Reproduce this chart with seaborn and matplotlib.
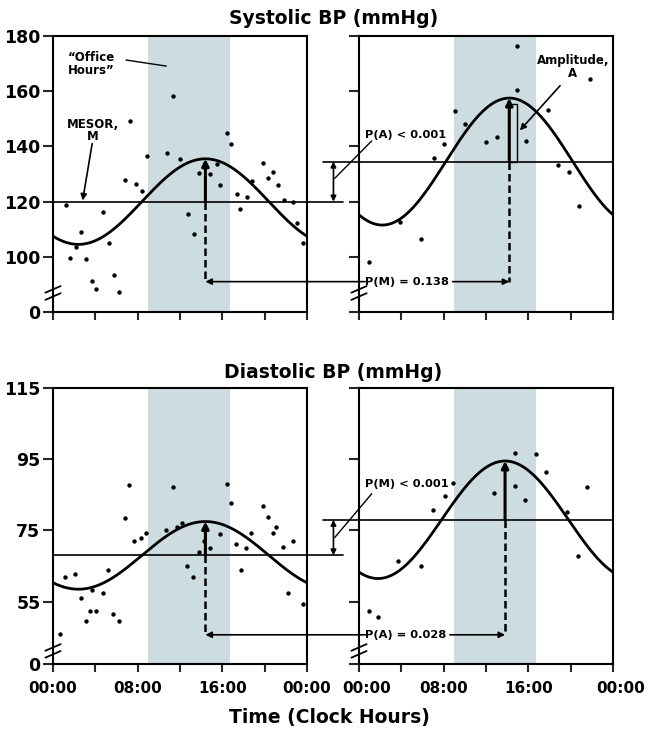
import numpy as np
import matplotlib
matplotlib.use("Agg")
import matplotlib.pyplot as plt
import matplotlib.transforms as mtransforms
import seaborn as sns

# --- DATA ---
# Systolic BP, left panel
sys_left_hour = [1.2, 1.6, 2.2, 2.6, 3.1, 3.7, 4.1, 4.75, 5.3, 5.8, 6.2, 6.8, 7.3, 7.8, 8.4, 8.9,
                 10.8, 11.3, 12.0, 12.8, 13.3, 13.8, 14.8, 15.5, 15.8, 16.4, 16.8, 17.4, 17.7, 18.3, 18.8,
                 19.8, 20.3, 20.8, 21.3, 21.8, 22.7, 23.1, 23.6]
sys_left_bp = [118.8, 99.6, 103.5, 109.1, 99.3, 91.2, 88.4, 116.1, 105.0, 93.3, 87.2, 127.8, 149.3, 126.5, 123.9, 136.7,
               137.7, 158.1, 135.6, 115.6, 108.4, 130.5, 129.9, 133.8, 125.9, 144.7, 140.8, 122.7, 117.2, 121.8, 127.4,
               133.9, 128.4, 130.8, 125.9, 120.7, 119.9, 112.4, 105.1]

# Systolic BP, right panel
sys_right_hour = [0.95, 3.9, 5.85, 7.05, 8.0, 9.1, 10.0, 12.0, 13.0, 14.9, 14.9, 15.8, 17.9, 18.8, 19.8, 20.8, 21.8]
sys_right_bp = [98.1, 112.6, 106.5, 135.9, 140.8, 152.8, 148.0, 141.5, 143.4, 176.5, 160.5, 141.9, 153.2, 133.2,
                130.8, 118.4, 164.4]

# Diastolic BP, left panel
dia_left_hour = [0.66, 1.1, 2.1, 2.6, 3.1, 3.5, 3.7, 4.1, 4.7, 5.2, 5.7, 6.2, 6.8, 7.2, 7.7, 8.3, 8.8, 10.7, 11.3, 11.7,
                 12.2, 12.7, 13.2, 13.8, 14.3, 14.8, 15.8, 16.4, 16.8, 17.3, 17.8, 18.2, 18.7, 19.8, 20.3, 20.8, 21.1,
                 21.7, 22.2, 22.7, 23.6]
dia_left_bp = [46.0, 62.0, 62.8, 56.1, 49.6, 52.5, 58.2, 52.5, 57.5, 64.0, 51.6, 49.5, 78.6, 87.7, 72.0, 72.9, 74.2,
               75.1, 87.3, 76.0, 77.0, 65.1, 62.0, 69.0, 72.0, 70.1, 74.0, 88.0, 82.8, 71.1, 64.0, 70.1, 74.2, 81.9,
               78.9, 74.2, 75.9, 70.3, 57.5, 72.0, 54.4]

# Diastolic BP, right panel
dia_right_hour = [0.9, 1.8, 3.7, 5.85, 7.0, 8.1, 8.9, 12.8, 14.7, 14.7, 15.7, 16.7, 17.7, 19.7, 20.7, 21.5]
dia_right_bp = [52.5, 50.6, 66.4, 64.9, 80.7, 84.7, 88.4, 85.6, 96.7, 87.5, 83.5, 96.6, 91.4, 80.3, 67.8, 87.3]

# cosinor fits [left, right]: MESOR, amplitude, acrophase (clock hours)
sys_mesor = [120.0, 134.5]
sys_amp = [15.5, 23.0]
sys_phase = [14.4, 14.2]
dia_mesor = [68.0, 78.0]
dia_amp = [9.5, 16.5]
dia_phase = [14.4, 13.8]

# p-value labels
sys_p_between = "P(A) < 0.001"
sys_p_across = "P(M) = 0.138"
dia_p_between = "P(M) < 0.001"
dia_p_across = "P(A) = 0.028"

office_hours = [9.0, 16.75]

sys_ticks = [80, 100, 120, 140, 160, 180]
sys_tick_labels = ["0", "100", "120", "140", "160", "180"]
dia_ticks = [37.5, 55, 75, 95, 115]
dia_tick_labels = ["0", "55", "75", "95", "115"]
hour_ticks = [0, 4, 8, 12, 16, 20, 24]
hour_labels = ["00:00", "", "08:00", "", "16:00", "", "00:00"]

# --- STYLE ---
sns.set_style("ticks")
plt.rcParams["font.family"] = ["DejaVu Sans"]
plt.rcParams["font.weight"] = "bold"

SHADE = "#cddce1"
BOLD = dict(fontweight="bold", color="black")
ARROW = dict(arrowstyle="-|>", color="black", lw=1.2, mutation_scale=9, shrinkA=0, shrinkB=0)

fig = plt.figure(figsize=(6.5, 7.29), dpi=100)
W, H = 254 / 650, 276 / 729
ax_tl = fig.add_axes([53 / 650, 1 - 312 / 729, W, H])
ax_tr = fig.add_axes([359 / 650, 1 - 312 / 729, W, H])
ax_bl = fig.add_axes([53 / 650, 1 - 664 / 729, W, H])
ax_br = fig.add_axes([359 / 650, 1 - 664 / 729, W, H])


def cosinor(mesor, amp, phase):
    t = np.linspace(0, 24, 300)
    return t, mesor + amp * np.cos(2 * np.pi * (t - phase) / 24)


def draw_panel(ax, hours, bp, mesor, amp, phase, level, ylim, yticks, ylabels, left, bottom, brk):
    ax.patch.set_alpha(0)
    ax.axvspan(office_hours[0], office_hours[1], color=SHADE, lw=0, zorder=0)
    sns.scatterplot(x=hours, y=bp, ax=ax, color="black", s=10, linewidth=0, zorder=3)
    t, fit = cosinor(mesor, amp, phase)
    sns.lineplot(x=t, y=fit, ax=ax, color="black", lw=2.0, zorder=4)

    # mesor line, extended into the gap between panels
    if left:
        ax.plot([0, 27.4], [mesor, mesor], color="black", lw=1.2, clip_on=False, zorder=4)
    else:
        ax.plot([-3.4, 24], [mesor, mesor], color="black", lw=1.2, clip_on=False, zorder=4)

    # amplitude arrow and dashed drop line at acrophase
    ax.annotate("", xy=(phase, mesor + amp), xytext=(phase, mesor),
                arrowprops=dict(ARROW, lw=2.2, mutation_scale=10), zorder=5)
    ax.plot([phase, phase], [mesor, level], color="black", lw=1.8,
            ls=(0, (3, 1.6)), zorder=5)

    ax.set_xlim(0, 24)
    ax.set_ylim(*ylim)
    ax.set_xticks(hour_ticks)
    ax.set_yticks(yticks)
    if bottom:
        ax.set_xticklabels(hour_labels, fontsize=11, **BOLD)
    else:
        ax.set_xticklabels([])
    if left:
        ax.set_yticklabels(ylabels, fontsize=12.5, **BOLD)
    else:
        ax.set_yticklabels([])
    ax.tick_params(axis="y", direction="out", length=7, width=1.5, pad=2)
    ax.tick_params(axis="x", direction="out", length=6, width=1.5, pad=6)
    for sp in ax.spines.values():
        sp.set_visible(True)
        sp.set_linewidth(1.5)
        sp.set_color("black")

    # axis break marks
    for f in brk:
        ax.plot([-0.03, 0.03], [f - 0.012, f + 0.012], transform=ax.transAxes,
                color="black", lw=1.3, clip_on=False, zorder=6)


draw_panel(ax_tl, sys_left_hour, sys_left_bp, sys_mesor[0], sys_amp[0], sys_phase[0], 91,
           (80, 180), sys_ticks, sys_tick_labels, True, False, [0.082, 0.056])
draw_panel(ax_tr, sys_right_hour, sys_right_bp, sys_mesor[1], sys_amp[1], sys_phase[1], 91,
           (80, 180), sys_ticks, sys_tick_labels, False, False, [0.082, 0.056])
draw_panel(ax_bl, dia_left_hour, dia_left_bp, dia_mesor[0], dia_amp[0], dia_phase[0], 45.7,
           (37.5, 115), dia_ticks, dia_tick_labels, True, True, [0.06, 0.035])
draw_panel(ax_br, dia_right_hour, dia_right_bp, dia_mesor[1], dia_amp[1], dia_phase[1], 45.7,
           (37.5, 115), dia_ticks, dia_tick_labels, False, True, [0.06, 0.035])

# the right panel's end labels sit a little to the right in the original
br_labels = ax_br.get_xticklabels()
for i in (0, len(br_labels) - 1):
    lab = br_labels[i]
    lab.set_transform(lab.get_transform() + mtransforms.ScaledTranslation(8 / 100, 0, fig.dpi_scale_trans))


def compare(ax_l, ax_r, mesor, phase, level, p_between, p_across, text_y, lead):
    # double arrow between the two MESOR levels (in the gap)
    ax_l.annotate("", xy=(26.5, mesor[1]), xytext=(26.5, mesor[0]),
                  arrowprops=dict(ARROW, arrowstyle="<|-|>", mutation_scale=8), annotation_clip=False)
    ax_r.text(0.6, text_y, p_between, fontsize=8.2, ha="left", va="center", **BOLD)
    ax_r.plot(lead[0], lead[1], color="black", lw=1.0, clip_on=False)
    # horizontal arrows linking the two acrophases
    ax_l.annotate("", xy=(phase[0], level), xytext=(29.5, level),
                  arrowprops=dict(ARROW), annotation_clip=False)
    ax_r.annotate(p_across, xy=(phase[1], level), xytext=(0.6, level), fontsize=8.2,
                  ha="left", va="center", arrowprops=dict(ARROW), annotation_clip=False, **BOLD)


compare(ax_tl, ax_tr, sys_mesor, sys_phase, 91, sys_p_between, sys_p_across, 144.0,
        ([1.2, -2.3], [142.0, 128.4]))
compare(ax_bl, ax_br, dia_mesor, dia_phase, 45.7, dia_p_between, dia_p_across, 88.0,
        ([1.2, -2.3], [85.3, 73.0]))

# annotations, top-left panel
ax_tl.text(1.4, 169.8, "\u201cOffice\nHours\u201d", fontsize=8.5, ha="left", va="center",
           linespacing=0.95, **BOLD)
ax_tl.plot([6.9, 10.7], [171.3, 169.1], color="black", lw=1.0)
ax_tl.text(3.8, 145.8, "MESOR,\nM", fontsize=8.5, ha="center", va="center",
           linespacing=0.95, **BOLD)
ax_tl.annotate("", xy=(2.8, 120.4), xytext=(3.7, 141.0), arrowprops=dict(ARROW))

# annotations, top-right panel
ax_tr.plot([sys_phase[1], 14.9, 14.9, sys_phase[1]],
           [155.5, 155.5, sys_mesor[1], sys_mesor[1]], color="black", lw=1.0)
ax_tr.text(20.2, 168.7, "Amplitude,\nA", fontsize=8.5, ha="center", va="center",
           linespacing=0.95, **BOLD)
ax_tr.annotate("", xy=(15.2, 145.8), xytext=(19.0, 162.0), arrowprops=dict(ARROW))

# titles
fig.text(334 / 650, 1 - 18 / 729, "Systolic BP (mmHg)", fontsize=13.5, ha="center", va="center", **BOLD)
fig.text(333 / 650, 1 - 372 / 729, "Diastolic BP (mmHg)", fontsize=13.5, ha="center", va="center", **BOLD)
fig.text(329 / 650, 1 - 717 / 729, "Time (Clock Hours)", fontsize=13.5, ha="center", va="center", **BOLD)

fig.savefig("out.png", dpi=100, facecolor="white")
